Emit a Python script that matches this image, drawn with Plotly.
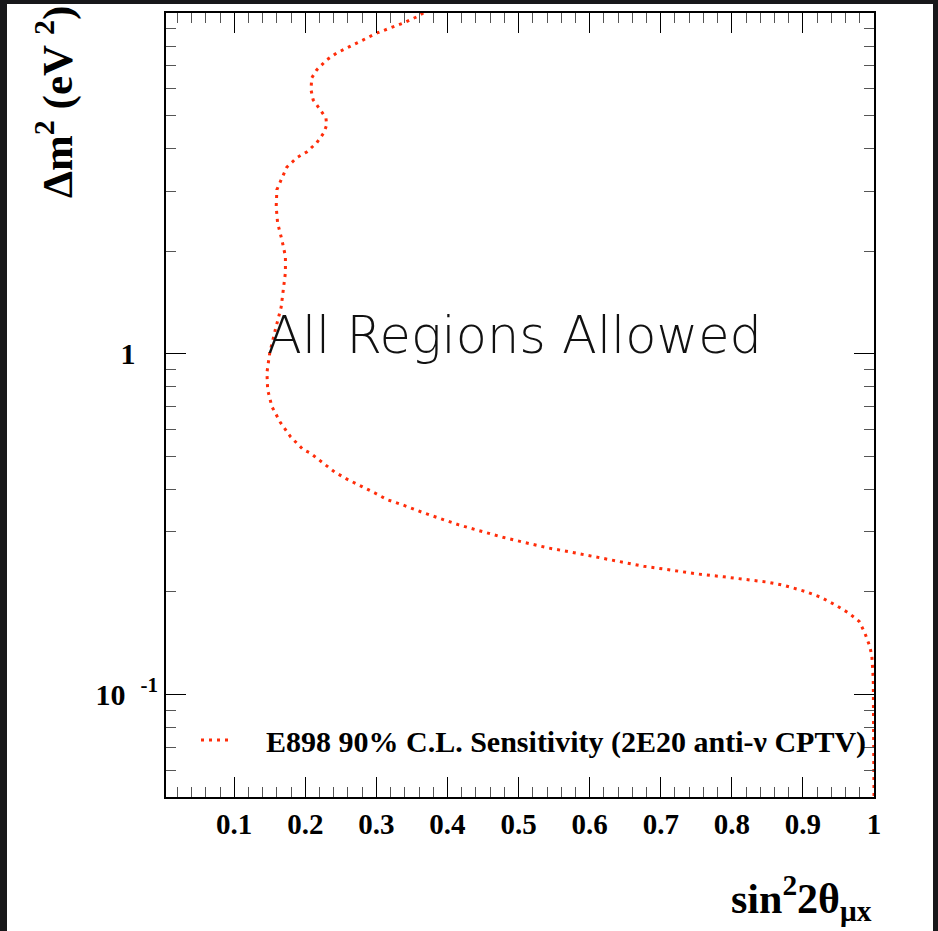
import plotly.graph_objects as go

# E898 90% C.L. sensitivity contour (sin^2 2theta, delta m^2 in eV^2)
sin2_2theta = [
    0.366, 0.357, 0.338, 0.319, 0.301, 0.281, 0.263, 0.244, 0.230, 0.216,
    0.209, 0.208, 0.211, 0.221, 0.229, 0.230, 0.226, 0.216, 0.202, 0.188,
    0.174, 0.166, 0.160, 0.159, 0.161, 0.167, 0.172, 0.172, 0.169, 0.166,
    0.158, 0.150, 0.146, 0.147, 0.153, 0.165, 0.179, 0.197, 0.207, 0.224,
    0.241, 0.258, 0.278, 0.298, 0.315, 0.337, 0.365, 0.394, 0.416, 0.444,
    0.478, 0.507, 0.541, 0.574, 0.603, 0.642, 0.676, 0.716, 0.750, 0.789,
    0.823, 0.851, 0.874, 0.902, 0.925, 0.947, 0.964, 0.979, 0.987, 0.994,
    0.997, 0.999, 1.000,
]
delta_m2 = [
    10.0, 9.75, 9.35, 9.04, 8.74, 8.33, 7.96, 7.63, 7.28, 6.81,
    6.45, 5.95, 5.56, 5.19, 4.92, 4.69, 4.45, 4.16, 3.91, 3.76,
    3.53, 3.24, 3.03, 2.70, 2.42, 2.16, 1.93, 1.73, 1.54, 1.37,
    1.18, 1.007, 0.880, 0.784, 0.699, 0.628, 0.571, 0.523, 0.511, 0.480,
    0.450, 0.429, 0.410, 0.390, 0.373, 0.360, 0.342, 0.326, 0.3145, 0.3027,
    0.2892, 0.2797, 0.2693, 0.2615, 0.2544, 0.2460, 0.2378, 0.2315, 0.2259, 0.2214,
    0.2174, 0.2135, 0.2088, 0.2009, 0.1929, 0.1824, 0.1736, 0.1640, 0.1517, 0.1385,
    0.1295, 0.1107, 0.050,
]

x_ticks = [0.1, 0.2, 0.3, 0.4, 0.5, 0.6, 0.7, 0.8, 0.9, 1.0]
x_ticklabels = ["0.1", "0.2", "0.3", "0.4", "0.5", "0.6", "0.7", "0.8", "0.9", "1"]
x_minor = [round(0.02 * i, 2) for i in range(1, 50) if i % 5 != 0]

y_ticks = [0.1, 1.0, 10.0]
y_ticklabels = ["10\u00a0\u00a0<sup>-1</sup>", "1\u00a0\u00a0\u00a0", ""]
y_minor = [0.06, 0.07, 0.08, 0.09,
           0.2, 0.3, 0.4, 0.5, 0.6, 0.7, 0.8, 0.9,
           2, 3, 4, 5, 6, 7, 8, 9]

legend_label = "\u00a0\u00a0\u00a0\u00a0E898 90% C.L. Sensitivity (2E20 anti-\u03bd CPTV)"

W, H = 938, 931
L, R, T, B = 166, 64, 13, 134
pw, ph = W - L - R, H - T - B


def px(xp):
    return (xp - L) / pw


def py(yp):
    return (H - B - yp) / ph


serif_bold = dict(family="Liberation Serif", color="black", weight="bold")

fig = go.Figure()
fig.add_trace(go.Scatter(
    x=sin2_2theta, y=delta_m2, mode="lines",
    line=dict(color="#ff2d0a", width=3, dash="3px,5px"),
    name=legend_label,
))

axis_common = dict(
    showline=True, linewidth=2, linecolor="black", mirror="allticks",
    ticks="inside", tickcolor="black", tickwidth=1, showgrid=False,
    zeroline=False,
)

fig.update_xaxes(
    range=[0.004, 1.0], tickmode="array", tickvals=x_ticks, ticktext=x_ticklabels,
    ticklen=20, tickfont=dict(size=29, **serif_bold),
    minor=dict(tickmode="array", tickvals=x_minor, ticks="inside", ticklen=10,
               tickcolor="#555", tickwidth=1),
    **axis_common,
)
fig.update_yaxes(
    type="log", range=[-1.30103, 1.0], tickmode="array", tickvals=y_ticks,
    ticktext=y_ticklabels, ticklen=20, tickfont=dict(size=30, **serif_bold),
    minor=dict(tickmode="array", tickvals=y_minor, ticks="inside", ticklen=10,
               tickcolor="#555", tickwidth=1),
    **axis_common,
)

fig.add_annotation(
    text="\u0394m<sup>2</sup> (eV <sup>2</sup>)", textangle=-90,
    xref="paper", yref="paper", x=px(55), y=py(4),
    xanchor="center", yanchor="top", showarrow=False,
    font=dict(size=43, **serif_bold),
)
fig.add_annotation(
    text="sin<sup>2</sup>2\u03b8<sub>\u03bcx</sub>",
    xref="paper", yref="paper", x=px(874), y=py(929),
    xanchor="right", yanchor="bottom", showarrow=False,
    font=dict(size=42, **serif_bold),
)
fig.add_annotation(
    text="All Regions Allowed",
    xref="paper", yref="paper", x=px(514), y=py(335),
    xanchor="center", yanchor="middle", showarrow=False,
    font=dict(family="DejaVu Sans", size=51, color="#111", weight=200),
)

# dark slide border around the white page
fig.add_shape(
    type="rect", xref="paper", yref="paper", layer="below",
    x0=px(7), x1=px(933), y0=py(940), y1=py(4),
    fillcolor="white", line=dict(width=0),
)

fig.update_layout(
    width=W, height=H, margin=dict(l=L, r=R, t=T, b=B),
    paper_bgcolor="#18181a", plot_bgcolor="white",
    showlegend=True,
    legend=dict(
        x=px(196), y=py(740), xanchor="left", yanchor="middle",
        bgcolor="rgba(0,0,0,0)", borderwidth=0,
        font=dict(size=30, **serif_bold),
    ),
)

fig.write_html("out.html")
